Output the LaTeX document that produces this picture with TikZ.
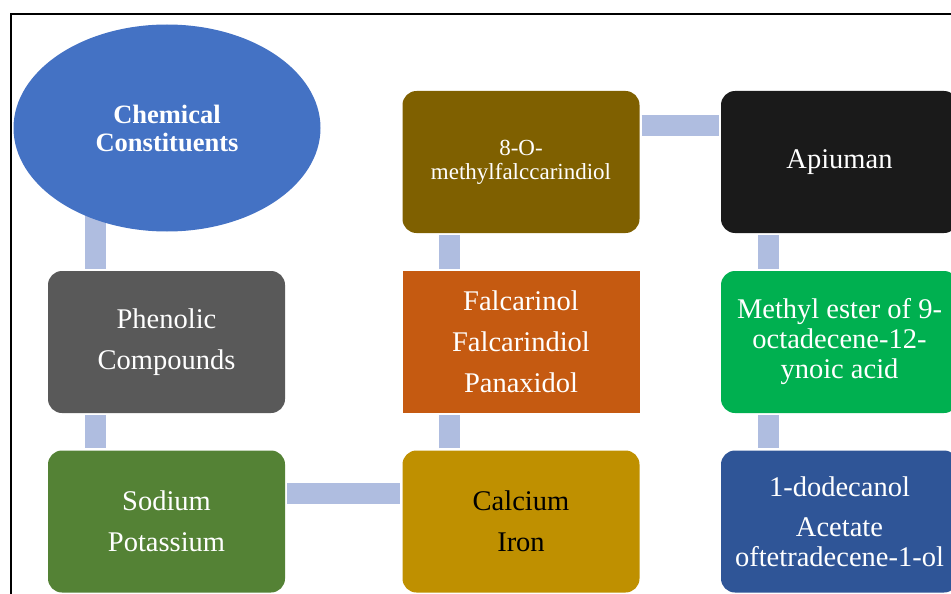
\documentclass[tikz,border=0pt]{standalone}
\usepackage{fontspec}
\setmainfont{Liberation Serif}
\usetikzlibrary{shapes.geometric,backgrounds}
\definecolor{ellblue}{HTML}{4472C4}
\definecolor{phengray}{HTML}{595959}
\definecolor{sodgreen}{HTML}{548235}
\definecolor{calgold}{HTML}{BF9000}
\definecolor{falorange}{HTML}{C55A11}
\definecolor{methbrown}{HTML}{7F6000}
\definecolor{apiblack}{HTML}{1A1A1A}
\definecolor{estgreen}{HTML}{00B050}
\definecolor{dodblue}{HTML}{2F5597}
\definecolor{linkblue}{HTML}{AFBDE0}
\tikzset{
	chembox/.style={rounded corners=14pt, minimum width=237pt, minimum height=142pt, inner sep=0pt, text=white, align=center, font=\fontsize{28.5}{41}\selectfont},
	link/.style={draw=linkblue, line width=21pt, shorten <=2pt, shorten >=2pt},
}
\begin{document}
\begin{tikzpicture}[x=1pt, y=-1pt]
		%%%%% START %%%%%
		\useasboundingbox (0,0) rectangle (951,594);
		
		\draw[line width=1.5pt] (11,594) -- (11,14) -- (951,14);
		
		\node[ellipse, fill=ellblue, minimum width=307pt, minimum height=207pt, inner sep=0pt, text=white, align=center, font=\fontsize{26.5}{28}\selectfont\bfseries] (chem) at (167,128) {Chemical\\Constituents};
		
		\node[chembox, fill=phengray] (phen) at (166.5,342) {Phenolic\\Compounds};
		\node[chembox, fill=sodgreen] (sod) at (166.5,521.5) {Sodium\\Potassium};
		\node[chembox, fill=calgold, text=black] (cal) at (521,521.5) {Calcium\\Iron};
		\node[chembox, fill=falorange, rounded corners=0pt] (fal) at (521,342) {Falcarinol\\Falcarindiol\\Panaxidol};
		\node[chembox, fill=methbrown, font=\fontsize{23}{24}\selectfont] (meth) at (521,162) {8-O-\\methylfalccarindiol};
		\node[chembox, fill=apiblack] (api) at (839.5,162) {Apiuman};
		\node[chembox, fill=estgreen, font=\fontsize{28.5}{30}\selectfont] (est) at (839.5,342) {Methyl ester of 9-\\octadecene-12-\\ynoic acid};
		\node[chembox, fill=dodblue, font=\fontsize{28.5}{30}\selectfont] (dod) at (839.5,521.5) {1-dodecanol\\[10pt]Acetate\\oftetradecene-1-ol};
		
		\begin{scope}[on background layer]
			\draw[link] ([xshift=-71.5pt]phen.north) -- ([xshift=-71.5pt]phen.north |- chem.center);
			\draw[link] ([xshift=-71.5pt]phen.south) -- ([xshift=-71.5pt]sod.north);
			\draw[link] ([yshift=28pt]sod.east) -- ([yshift=28pt]cal.west);
			\draw[link] ([xshift=-71.5pt]cal.north) -- ([xshift=-71.5pt]fal.south);
			\draw[link] ([xshift=-71.5pt]fal.north) -- ([xshift=-71.5pt]meth.south);
			\draw[link] ([yshift=36.5pt]meth.east) -- ([yshift=36.5pt]api.west);
			\draw[link] ([xshift=-71.5pt]api.south) -- ([xshift=-71.5pt]est.north);
			\draw[link] ([xshift=-71.5pt]est.south) -- ([xshift=-71.5pt]dod.north);
		\end{scope}
		%%%%% END %%%%%
\end{tikzpicture}
\end{document}
